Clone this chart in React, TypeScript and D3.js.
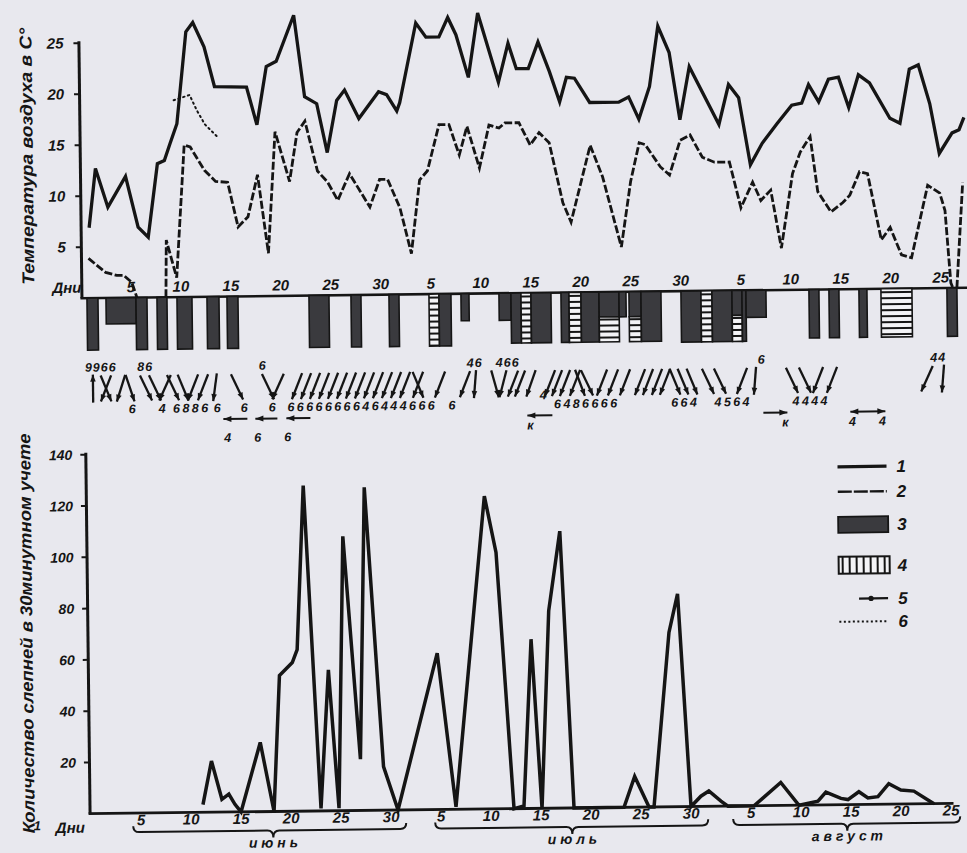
import React from "react";
import * as d3 from "d3";

const FONT = "'Liberation Sans', 'DejaVu Sans', Arial, sans-serif";
const INK = "#151515";
const PAPER = "#e8e8ee";
const DARK = "#3a3a3e";

// day index: 0 = 1 June, 30 = 1 July, 61 = 1 August
const maxTemp: [number, number][] = [
  [0.1, 6.9], [0.8, 12.7], [2.0, 8.9], [3.8, 11.9], [5.0, 6.9], [6.0, 5.9], [7.0, 13.1], [7.7, 13.4],
  [8.3, 15.1], [9.0, 17.0], [10.0, 26.0], [10.7, 26.9], [11.8, 24.5], [12.8, 20.6], [16.0, 20.5],
  [17.0, 16.8], [18.0, 22.5], [19.0, 23.0], [20.8, 27.5], [21.8, 19.5], [23.0, 18.8], [24.0, 14.0],
  [25.0, 19.1], [25.8, 20.1], [27.2, 17.3], [29.2, 19.9], [30.0, 19.6], [31.0, 18.0], [31.3, 18.8],
  [33.0, 26.6], [34.0, 25.2], [35.3, 25.2], [36.2, 27.1], [37.0, 25.4], [38.2, 21.2], [39.2, 27.5],
  [41.2, 20.7], [42.2, 24.5], [43.0, 22.0], [44.2, 22.0], [45.2, 24.6], [46.3, 21.7], [47.3, 18.7],
  [48.0, 21.1], [48.8, 21.0], [50.3, 18.6], [53.2, 18.6], [54.2, 19.1], [55.2, 16.9], [56.3, 20.1],
  [57.2, 26.0], [58.3, 23.4], [59.3, 16.8], [60.3, 22.0], [63.2, 16.3], [64.2, 20.2], [65.2, 18.9],
  [66.3, 12.3], [67.5, 14.4], [69.0, 16.3], [70.5, 18.1], [71.5, 18.3], [72.2, 20.1], [73.2, 18.4],
  [74.2, 20.6], [75.2, 20.8], [76.2, 17.8], [77.2, 21.0], [78.3, 20.2], [80.3, 16.7], [81.3, 16.2],
  [82.3, 21.5], [83.2, 21.9], [84.3, 18.1], [85.2, 13.2], [86.5, 15.2], [87.2, 15.5], [87.7, 16.7],
];

const minTempA: [number, number][] = [
  [0.0, 3.9], [1.7, 2.5], [2.8, 2.2], [3.5, 2.2], [4.3, 1.5], [4.8, 0],
];
const minTempB: [number, number][] = [
  [7.7, 0], [7.8, 5.6], [8.8, 1.9], [9.7, 14.9], [10.3, 14.7], [11.7, 12.4], [12.8, 11.3], [14.0, 11.2],
  [15.0, 6.8], [16.0, 7.8], [17.0, 11.9], [18.0, 4.2], [18.8, 16.1], [20.2, 11.2], [21.0, 16.0],
  [21.8, 17.1], [23.0, 12.2], [24.0, 11.1], [25.0, 9.3], [26.2, 11.9], [28.2, 8.6], [29.2, 11.3],
  [30.0, 11.3], [31.2, 8.5], [32.3, 4.0], [33.2, 11.2], [34.0, 12.1], [35.2, 16.6], [36.2, 16.6],
  [37.2, 13.6], [38.0, 16.4], [39.2, 12.3], [40.2, 16.5], [41.2, 16.2], [41.8, 16.7], [43.2, 16.7],
  [44.3, 14.5], [45.2, 15.7], [46.2, 14.7], [47.5, 8.8], [48.3, 6.9], [50.3, 14.4], [51.5, 11.3],
  [53.3, 4.4], [54.3, 10.8], [55.2, 14.6], [55.8, 14.4], [57.3, 12.2], [58.2, 11.4], [59.3, 14.8],
  [60.3, 15.3], [61.5, 13.1], [62.7, 12.6], [64.2, 12.6], [65.3, 8.1], [66.5, 10.6], [67.3, 8.8],
  [68.3, 9.8], [69.3, 4.1], [70.5, 11.4], [71.3, 13.5], [72.3, 15.0], [73.0, 9.6], [74.3, 7.6],
  [75.5, 8.5], [76.2, 9.2], [77.2, 11.5], [78.0, 11.3], [79.3, 4.8], [80.2, 6.0], [81.3, 3.3],
  [82.3, 3.0], [84.0, 10.1], [85.2, 9.3], [85.7, 7.6], [86.2, 0.5], [86.4, 0],
];
const minTempC: [number, number][] = [[86.8, 0], [87.5, 10.3]];
const dottedTemp: [number, number][] = [[8.7, 19.3], [10.3, 19.8], [11.0, 18.3], [11.8, 16.9], [13.0, 15.7]];

const flies: [number, number][] = [
  [10.0, 3], [10.9, 20], [11.9, 5], [12.6, 7], [13.2, 3], [13.8, 0], [15.8, 27], [17.1, 0],
  [17.8, 53], [19.1, 58], [19.6, 63], [20.4, 127], [21.8, 1], [22.7, 55], [23.6, 1], [24.3, 107],
  [25.8, 20], [26.5, 126], [28.1, 17], [29.5, 0], [33.6, 61], [35.3, 1], [38.5, 122], [39.6, 100],
  [41.1, 0], [42.1, 1], [43.0, 66], [43.9, 0], [44.8, 77], [46.0, 108], [47.1, 0], [52.1, 0],
  [53.2, 12], [54.6, 0], [55.1, 0], [56.8, 68], [57.7, 83], [58.8, 0], [59.8, 4], [60.6, 6],
  [61.8, 2], [62.5, 0], [65.1, 0], [67.8, 9], [69.6, 0], [71.5, 1.5], [72.3, 5], [73.8, 2.5],
  [74.5, 2], [75.6, 5], [76.5, 2.5], [77.5, 3], [78.6, 8], [79.8, 5.5], [81.1, 5], [82.5, 1.5], [83.1, 0],
];

const tempTicks = [5, 10, 15, 20, 25];
const flyTicks = [20, 40, 60, 80, 100, 120, 140];
const dayTicks: [number, string][] = [
  [4, "5"], [9, "10"], [14, "15"], [19, "20"], [24, "25"], [29, "30"],
  [34, "5"], [39, "10"], [44, "15"], [49, "20"], [54, "25"], [59, "30"],
  [65, "5"], [70, "10"], [75, "15"], [80, "20"], [85, "25"],
];
const months: [number, number, number, string][] = [
  [3.0, 30.3, 17.0, "и ю н ь"],
  [33.2, 60.5, 46.9, "и ю л ь"],
  [63.0, 85.7, 74.4, "а в г у с т"],
];

// weather bars: start day, end day, top depth, bottom depth, kind (d = 3, h = 4)
const bars: [number, number, number, number, string][] = [
  [-0.2, 0.9, 0, 1, "d"], [1.7, 4.7, 0, 0.5, "d"], [4.7, 5.8, 0, 1, "d"], [6.8, 7.8, 0, 1, "d"],
  [8.8, 10.3, 0, 1, "d"], [11.8, 13.0, 0, 1, "d"], [13.8, 14.9, 0, 1, "d"], [22.0, 24.0, 0, 1, "d"],
  [26.2, 27.2, 0, 1, "d"], [30.0, 31.0, 0, 1, "d"], [34.0, 35.0, 0, 1, "h"], [35.0, 36.2, 0, 1, "d"],
  [37.2, 38.0, 0, 0.52, "d"], [41.0, 42.2, 0, 0.52, "d"], [42.2, 43.2, 0, 0.96, "d"],
  [43.2, 44.2, 0, 0.96, "h"], [44.2, 46.2, 0, 0.96, "d"], [47.2, 48.0, 0, 0.96, "d"],
  [48.0, 49.2, 0, 0.96, "h"], [49.2, 51.0, 0, 0.96, "d"], [51.0, 53.0, 0, 0.48, "d"],
  [51.0, 53.0, 0.48, 0.96, "h"], [53.0, 53.7, 0, 0.48, "d"], [54.0, 55.2, 0, 0.48, "d"],
  [54.0, 55.2, 0.48, 0.96, "h"], [55.2, 57.2, 0, 0.96, "d"], [59.2, 61.2, 0, 0.98, "d"],
  [61.2, 62.3, 0, 0.98, "h"], [62.3, 64.3, 0, 0.98, "d"], [64.3, 65.3, 0, 0.48, "d"],
  [64.3, 65.3, 0.48, 0.98, "h"], [65.3, 65.7, 0, 0.98, "d"], [65.7, 67.7, 0, 0.52, "d"],
  [72.0, 73.0, 0, 0.93, "d"], [74.0, 75.0, 0, 0.93, "d"], [77.0, 77.8, 0, 0.93, "d"],
  [79.2, 82.3, 0, 0.93, "h"], [85.8, 86.8, 0, 0.93, "d"],
];

// wind arrows: day, tilt in degrees (+ = "/"), head (1 = top, -1 = bottom)
const windArrows: [number, number, number][] = [
  [0.3, 0, 1], [1.6, -22, -1], [1.6, 22, -1], [3.1, 18, -1], [4.0, -18, -1],
  [5.6, -25, -1], [6.5, -25, -1], [7.5, 25, -1], [8.3, -25, -1], [9.3, -22, -1],
  [10.3, 22, -1], [11.3, 22, -1], [12.5, 8, -1], [14.7, -25, -1], [17.8, -25, -1], [18.8, 25, -1],
  [20.7, 22, -1], [21.6, 22, -1], [22.5, 22, -1], [23.4, 22, -1], [24.3, 22, -1], [25.2, 22, -1],
  [26.1, 22, -1], [27.0, 22, -1], [27.9, 22, -1], [28.8, 22, -1], [29.7, 22, -1], [30.6, 22, -1],
  [31.5, 22, -1], [32.8, 22, -1], [32.8, -22, -1], [35.0, 22, -1], [37.5, 22, -1], [38.5, 5, -1],
  [40.5, -15, -1], [41.3, 15, -1], [42.3, 22, -1], [43.0, 22, -1], [44.1, 20, -1], [46.0, 22, -1],
  [46.7, 22, -1], [47.5, 22, -1], [48.5, 22, -1], [49.0, -20, -1], [49.7, -25, -1], [51.2, 22, -1],
  [52.3, 22, -1], [53.5, 22, -1], [55.0, 22, -1], [55.8, 22, -1], [56.7, 22, -1], [57.5, 22, -1],
  [58.5, -22, -1], [59.3, -22, -1], [60.2, -22, -1], [61.8, -25, -1], [63.0, -25, -1],
  [65.2, 22, -1], [66.5, 5, -1], [70.2, -25, -1], [71.5, -25, -1], [72.8, 22, -1], [74.2, 22, -1],
  [83.7, 25, -1], [85.3, 5, -1],
];
const windTop: [number, string][] = [
  [1.1, "9966"], [5.55, "86"], [17.3, "6"], [38.5, "46"], [41.8, "466"], [67.2, "6"], [84.85, "44"],
];
const windBottom: [number, string][] = [
  [4.3, "6"], [7.3, "4"], [10.15, "6886"], [12.8, "6"], [15.5, "6"], [18.3, "6"],
  [27.2, "6666666646444666"], [36.3, "6"], [49.65, "6486666"], [59.5, "664"], [64.3, "4564"], [72.1, "4444"],
];
const windBottomHigh: [number, string][] = [[45.3, "4"]];
// horizontal arrows: from day, to day, heads (1 left, 2 right, 3 both)
const hArrows: [number, number, number][] = [
  [13.3, 15.7, 1], [16.5, 18.7, 1], [19.6, 22.0, 1], [43.7, 46.2, 1], [67.3, 69.7, 2], [76.0, 79.5, 3],
];
const hArrowLabelsLow: [number, string][] = [[13.7, "4"], [16.7, "6"], [19.7, "6"]];
const hArrowLabelsHigh: [number, string][] = [[44.0, "к"], [69.5, "к"], [76.2, "4"], [79.2, "4"]];

const legendItems = ["1", "2", "3", "4", "5", "6"];

function head(x1: number, y1: number, x2: number, y2: number, len = 7, half = 2.8) {
  const L = Math.hypot(x2 - x1, y2 - y1) || 1;
  const ux = (x2 - x1) / L, uy = (y2 - y1) / L;
  const bx = x2 - ux * len, by = y2 - uy * len;
  const nx = -uy, ny = ux;
  return `${x2},${y2} ${bx + nx * half},${by + ny * half} ${bx - nx * half},${by - ny * half}`;
}

function brace(x1: number, x2: number, xm: number, y: number) {
  return `M${x1},${y - 6} Q${x1},${y} ${x1 + 6},${y} L${xm - 6},${y} Q${xm},${y} ${xm},${y + 7} Q${xm},${y} ${xm + 6},${y} L${x2 - 6},${y} Q${x2},${y} ${x2},${y - 6}`;
}

export default function App() {
  const xT = d3.scaleLinear().domain([0, 85]).range([90.5, 940.5]);
  const yT = d3.scaleLinear().domain([0, 25]).range([293.5, 38.5]);
  const xB = d3.scaleLinear().domain([0, 85]).range([98.5, 948.5]);
  const yB = d3.scaleLinear().domain([0, 140]).range([809, 450]);
  const yBar = d3.scaleLinear().domain([0, 1]).range([293.5, 345.5]);

  const lineT = d3.line<[number, number]>().x((d) => xT(d[0])).y((d) => yT(d[1]));
  const lineB = d3.line<[number, number]>().x((d) => xB(d[0])).y((d) => yB(d[1]));

  const txt = { fontFamily: FONT, fontStyle: "italic" as const, fontWeight: 700, fill: INK };
  const AY = 384, AL = 28;
  const HY = 416;

  return (
    <svg width={967} height={853} style={{ position: "fixed", left: 0, top: 0, display: "block" }}>
      <defs>
        <pattern id="hatchH" patternUnits="userSpaceOnUse" width="8" height="6">
          <rect width="8" height="6" fill="#f3f3f6" />
          <rect y="2" width="8" height="2" fill={INK} />
        </pattern>
        <pattern id="hatchV" patternUnits="userSpaceOnUse" x="837" width="7" height="8">
          <rect width="7" height="8" fill="#f3f3f6" />
          <rect x="3" width="2" height="8" fill={INK} />
        </pattern>
      </defs>
      <rect width={967} height={853} fill={PAPER} />
      <g transform="rotate(-0.68 483 426)">
        {/* ---------- TOP CHART ---------- */}
        <text {...txt} fontSize={17} textAnchor="middle" textLength={257} lengthAdjust="spacingAndGlyphs"
          transform="translate(36,151) rotate(-90)">Температура воздуха в С°</text>
        <line x1={83.5} x2={83.5} y1={yT(25) - 2} y2={yT(0)} stroke={INK} strokeWidth={3} />
        <line x1={82} x2={980} y1={yT(0)} y2={yT(0)} stroke={INK} strokeWidth={2.6} />
        {tempTicks.map((v) => (
          <g key={"tt" + v}>
            <line x1={78} x2={83.5} y1={yT(v)} y2={yT(v)} stroke={INK} strokeWidth={2} />
            <text {...txt} fontSize={15} textAnchor="end" x={68} y={yT(v) + 5}>{v}</text>
          </g>
        ))}
        <text {...txt} fontSize={15} x={54} y={288}>Дни</text>
        {dayTicks.map(([d, s], k) => (
          <text key={"dt" + k} {...txt} fontSize={15} textAnchor="middle" x={xT(d) + 2} y={288}>{s}</text>
        ))}

        <path d={lineT(maxTemp) || ""} fill="none" stroke={INK} strokeWidth={3.3} />
        {[minTempA, minTempB, minTempC].map((s, k) => (
          <path key={"mn" + k} d={lineT(s) || ""} fill="none" stroke={INK} strokeWidth={2.8} strokeDasharray="8 2.5" />
        ))}
        <path d={lineT(dottedTemp) || ""} fill="none" stroke={INK} strokeWidth={2} strokeDasharray="1.5 3.5" strokeLinecap="round" />

        {/* weather bars */}
        {bars.map(([s, e, t, b, kind], k) => (
          <rect key={"b" + k} x={xT(s)} width={xT(e) - xT(s)} y={yBar(t)} height={yBar(b) - yBar(t)}
            fill={kind === "d" ? DARK : "url(#hatchH)"} stroke={INK} strokeWidth={1.6} />
        ))}

        {/* wind */}
        {windArrows.map(([d, a, h], k) => {
          const cx = xT(d), r = (a * Math.PI) / 180;
          const dx = (Math.sin(r) * AL) / 2, dy = (Math.cos(r) * AL) / 2;
          const top = [cx + dx, AY - dy], bot = [cx - dx, AY + dy];
          const [tip, tail] = h > 0 ? [top, bot] : [bot, top];
          return (
            <g key={"w" + k}>
              <line x1={tail[0]} y1={tail[1]} x2={tip[0]} y2={tip[1]} stroke={INK} strokeWidth={2.3} />
              <polygon points={head(tail[0], tail[1], tip[0], tip[1])} fill={INK} />
            </g>
          );
        })}
        {windTop.map(([d, s], k) => (
          <text key={"wt" + k} {...txt} fontSize={12.5} letterSpacing={1} textAnchor="middle" x={xT(d)} y={367}>{s}</text>
        ))}
        {windBottom.map(([d, s], k) => (
          <text key={"wb" + k} {...txt} fontSize={12.5} letterSpacing={2.4} textAnchor="middle" x={xT(d)} y={409}>{s}</text>
        ))}
        {windBottomHigh.map(([d, s], k) => (
          <text key={"wbh" + k} {...txt} fontSize={12.5} textAnchor="middle" x={xT(d)} y={400}>{s}</text>
        ))}
        {hArrows.map(([a, b, h], k) => (
          <g key={"ha" + k}>
            <line x1={xT(a)} x2={xT(b)} y1={HY} y2={HY} stroke={INK} strokeWidth={2} />
            {(h & 1) !== 0 && <polygon points={head(xT(b), HY, xT(a), HY, 8, 3)} fill={INK} />}
            {(h & 2) !== 0 && <polygon points={head(xT(a), HY, xT(b), HY, 8, 3)} fill={INK} />}
          </g>
        ))}
        {hArrowLabelsLow.map(([d, s], k) => (
          <text key={"hl" + k} {...txt} fontSize={12.5} textAnchor="middle" x={xT(d)} y={439}>{s}</text>
        ))}
        {hArrowLabelsHigh.map(([d, s], k) => (
          <text key={"hh" + k} {...txt} fontSize={12.5} textAnchor="middle" x={xT(d)} y={430}>{s}</text>
        ))}

        {/* ---------- BOTTOM CHART ---------- */}
        <text {...txt} fontSize={17} textAnchor="middle" textLength={400} lengthAdjust="spacingAndGlyphs"
          transform="translate(30,628) rotate(-90)">Количество слепней в 30минутном учете</text>
        <line x1={85.5} x2={85.5} y1={yB(140) - 2} y2={yB(0)} stroke={INK} strokeWidth={3} />
        <line x1={84} x2={949} y1={yB(0)} y2={yB(0)} stroke={INK} strokeWidth={2.8} />
        {flyTicks.map((v) => (
          <g key={"ft" + v}>
            <line x1={80} x2={85.5} y1={yB(v)} y2={yB(v)} stroke={INK} strokeWidth={2} />
            <text {...txt} fontSize={14} textAnchor="end" x={72} y={yB(v) + 5}>{v}</text>
          </g>
        ))}
        <text {...txt} fontSize={13} x={29} y={825}>1</text>
        <text {...txt} fontSize={15} x={51} y={828}>Дни</text>
        {dayTicks.map(([d, s], k) => (
          <text key={"db" + k} {...txt} fontSize={15} textAnchor="middle" x={xB(d) - 2} y={821}>{s}</text>
        ))}
        {months.map(([a, b, m, name], k) => (
          <g key={"m" + k}>
            <path d={brace(xB(a), xB(b), xB(m), 828)} fill="none" stroke={INK} strokeWidth={2} />
            <text {...txt} fontSize={14} textAnchor="middle" x={xB(m)} y={845}>{name}</text>
          </g>
        ))}
        <path d={lineB(flies) || ""} fill="none" stroke={INK} strokeWidth={3.5} />

        {/* legend */}
        <line x1={837} x2={886} y1={471} y2={471} stroke={INK} strokeWidth={3.3} />
        <line x1={837} x2={886} y1={496} y2={496} stroke={INK} strokeWidth={2.4} strokeDasharray="14 2" />
        <rect x={837} y={521} width={50} height={16} fill={DARK} stroke={INK} strokeWidth={1.8} />
        <rect x={837} y={561} width={51} height={17} fill="url(#hatchV)" stroke={INK} strokeWidth={2} />
        <line x1={857} x2={886} y1={603} y2={603} stroke={INK} strokeWidth={2.2} />
        <circle cx={869} cy={603} r={2.6} fill={INK} />
        <line x1={837} x2={886} y1={626} y2={626} stroke={INK} strokeWidth={2} strokeDasharray="2 2.5" />
        {legendItems.map((s, k) => (
          <text key={"lg" + k} {...txt} fontSize={17} x={896} y={[471, 496, 529, 570, 603, 626][k] + 6}>{s}</text>
        ))}
      </g>
    </svg>
  );
}
